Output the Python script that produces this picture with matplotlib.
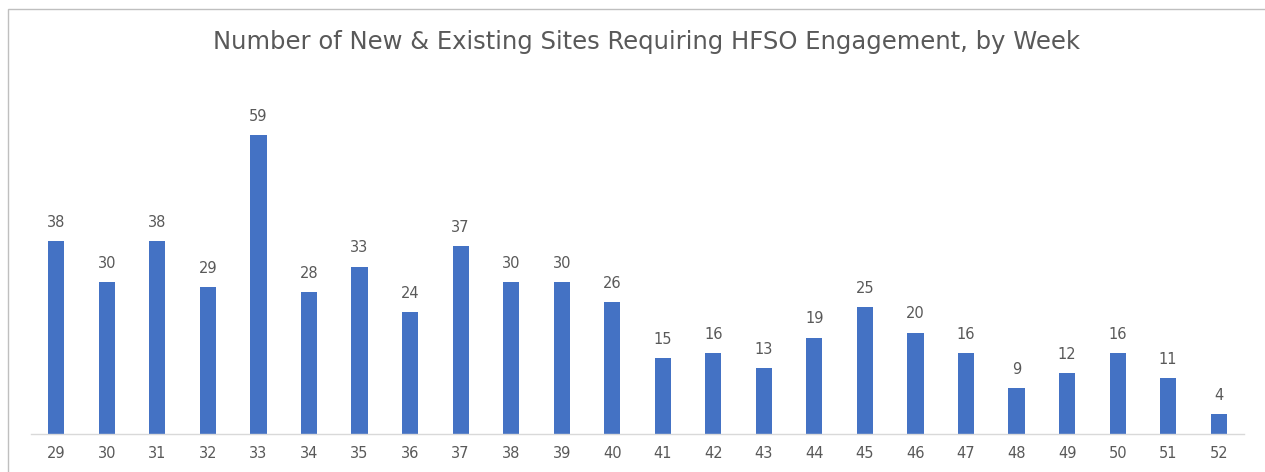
import matplotlib.pyplot as plt
from matplotlib.patches import Rectangle

weeks = ['29', '30', '31', '32', '33', '34', '35', '36', '37', '38', '39', '40',
         '41', '42', '43', '44', '45', '46', '47', '48', '49', '50', '51', '52']
sites = [38, 30, 38, 29, 59, 28, 33, 24, 37, 30, 30, 26,
         15, 16, 13, 19, 25, 20, 16, 9, 12, 16, 11, 4]

grey = '#595959'
blue = '#4472C4'

fig = plt.figure(figsize=(12.65, 4.72), dpi=100)
ax = fig.add_axes([31 / 1265, 1 - 434 / 472, (1244 - 31) / 1265, (434 - 79) / 472])

x = range(len(weeks))
bars = ax.bar(x, sites, width=0.32, color=blue, zorder=2)
for b, v in zip(bars, sites):
    ax.text(b.get_x() + b.get_width() / 2, v + 2.2, str(v), ha='center', va='bottom',
            fontsize=10.5, color=grey)

ax.set_xlim(-0.5, len(weeks) - 0.5)
ax.set_ylim(0, 70)
ax.set_xticks(list(x))
ax.set_xticklabels(weeks, fontsize=10.5, color=grey)
ax.tick_params(axis='x', length=0, pad=9)
ax.set_yticks([])
for s in ['top', 'left', 'right']:
    ax.spines[s].set_visible(False)
ax.spines['bottom'].set_color('#D9D9D9')
ax.spines['bottom'].set_linewidth(1)

fig.text(646 / 1265, 1 - 42 / 472, 'Number of New & Existing Sites Requiring HFSO Engagement, by Week',
         ha='center', va='center', fontsize=17.5, color=grey)

# chart border
fig.patches.append(Rectangle((8 / 1265, -0.05), 1.1, 1 - 9 / 472 + 0.05, transform=fig.transFigure,
                             fill=False, edgecolor='#BFBFBF', linewidth=1, clip_on=False))

fig.savefig('out.png', dpi=100)
